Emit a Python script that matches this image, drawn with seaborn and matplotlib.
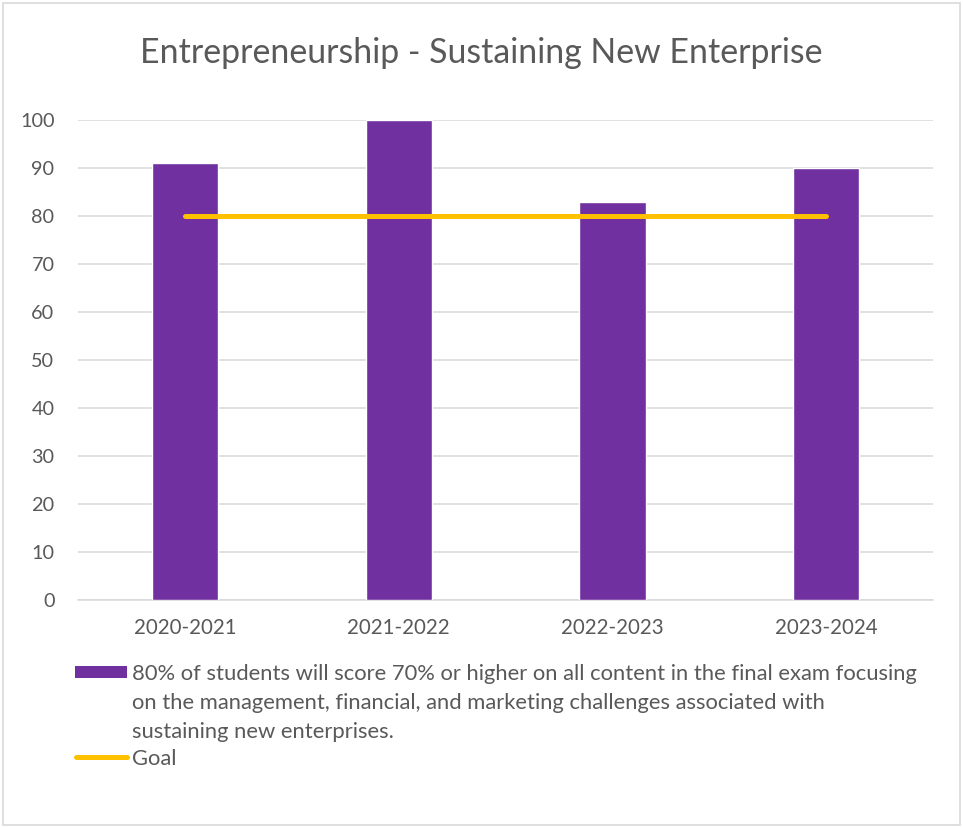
import matplotlib
matplotlib.use("Agg")
import matplotlib.pyplot as plt
from matplotlib.patches import Rectangle
from matplotlib.lines import Line2D
import seaborn as sns
import pandas as pd

# Data
years = ["2020-2021", "2021-2022", "2022-2023", "2023-2024"]
scores = [91, 100, 83, 90]
goal = [80, 80, 80, 80]
y_ticks = [0, 10, 20, 30, 40, 50, 60, 70, 80, 90, 100]

title = "Entrepreneurship - Sustaining New Enterprise"
bar_label_lines = [
    "80% of students will score 70% or higher on all content in the final exam focusing",
    "on the management, financial, and marketing challenges associated with",
    "sustaining new enterprises.",
]
goal_label = "Goal"

PURPLE = "#7030A0"
GOLD = "#FFC000"
TEXT = "#595959"
GRID = "#D9D9D9"

sns.set_theme(style="white")
plt.rcParams["font.family"] = ["Lato", "DejaVu Sans"]

df = pd.DataFrame({"year": years, "score": scores, "goal": goal})

fig = plt.figure(figsize=(9.63, 8.27), dpi=100)
fig.patch.set_facecolor("white")
ax = fig.add_axes([0.081, 0.2745, 0.888, 0.5805])

sns.barplot(data=df, x="year", y="score", color=PURPLE, width=0.31,
            saturation=1, ax=ax, zorder=3)
sns.lineplot(data=df, x="year", y="goal", color=GOLD, linewidth=3.6,
             solid_capstyle="round", ax=ax, zorder=4)

ax.set_xlim(-0.5, 3.5)
ax.set_ylim(0, 100)
ax.set_yticks(y_ticks)
ax.yaxis.grid(True, color=GRID, linewidth=1.1, zorder=0)
ax.set_axisbelow(True)
ax.set_xlabel("")
ax.set_ylabel("")
for side in ["top", "right", "left"]:
    ax.spines[side].set_visible(False)
ax.spines["bottom"].set_color(GRID)
ax.spines["bottom"].set_linewidth(1.1)
ax.tick_params(axis="y", length=0, pad=17, labelsize=14.3, labelcolor=TEXT)
ax.tick_params(axis="x", length=0, pad=13, labelsize=14.8, labelcolor=TEXT)

fig.text(0.5, 1 - 53 / 827, title, ha="center", va="center",
         fontsize=24.4, color=TEXT)

# Legend drawn below the plot area
W, H = 963, 827
fig.patches.append(Rectangle((75 / W, 1 - 678 / H), 52 / W, 12 / H,
                             transform=fig.transFigure, facecolor=PURPLE,
                             edgecolor="none"))
for i, line in enumerate(bar_label_lines):
    fig.text(132 / W, 1 - (672 + 29 * i) / H, line, ha="left",
             va="center_baseline", fontsize=15.8, color=TEXT)
fig.lines.append(Line2D([76 / W, 127 / W], [1 - 757 / H, 1 - 757 / H],
                        transform=fig.transFigure, color=GOLD, linewidth=3.6,
                        solid_capstyle="round"))
fig.text(132 / W, 1 - 757 / H, goal_label, ha="left", va="center_baseline",
         fontsize=15.8, color=TEXT)

# Chart frame
fig.patches.append(Rectangle((3 / W, 2 / H), 957 / W, 822 / H,
                             transform=fig.transFigure, facecolor="none",
                             edgecolor="#D9D9D9", linewidth=1.2))

fig.savefig("out.png", dpi=100)
